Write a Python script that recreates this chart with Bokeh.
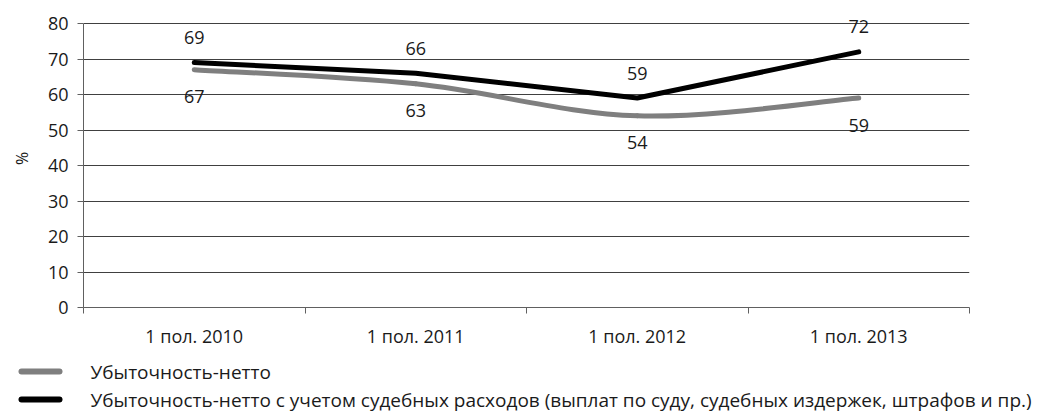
import numpy as np
from bokeh.plotting import figure
from bokeh.layouts import column
from bokeh.models import ColumnDataSource, FixedTicker, LinearAxis, Range1d
from bokeh.core.properties import value
from bokeh.embed import file_html
from bokeh.resources import INLINE

# --- data ---
categories = ["1 пол. 2010", "1 пол. 2011", "1 пол. 2012", "1 пол. 2013"]
net_loss = [67, 63, 54, 59]
net_loss_legal = [69, 66, 59, 72]
y_ticks = [0, 10, 20, 30, 40, 50, 60, 70, 80]
series_names = [
    "Убыточность-нетто",
    "Убыточность-нетто с учетом судебных расходов (выплат по суду, судебных издержек, штрафов и пр.)",
]

FONT = "Open Sans"
TXT = "#1a1a1a"
FS = "18px"
GREY = "#7f7f7f"
BLACK = "#000000"
AXIS = "#606060"

xs = np.arange(len(categories)) + 0.5

# a little head-room above 80 so the top value label is not clipped
y_max = y_ticks[-1]
frame_h = 298
y_top = y_max * frame_h / 284

p = figure(width=1048, height=350, frame_width=886, frame_height=frame_h,
           min_border_left=83, min_border_right=79, min_border_top=9,
           min_border_bottom=43,
           x_range=Range1d(0, len(categories)), y_range=Range1d(0, y_top),
           output_backend="svg", toolbar_location=None, x_axis_type=None)
p.outline_line_color = None
p.background_fill_color = "white"
p.border_fill_color = "white"
p.frame_align = False

# y axis
p.yaxis.ticker = FixedTicker(ticks=y_ticks)
p.yaxis.bounds = (0, y_max)
p.yaxis.axis_line_color = AXIS
p.yaxis.major_tick_line_color = AXIS
p.yaxis.major_tick_out = 6
p.yaxis.major_tick_in = 0
p.yaxis.minor_tick_line_color = None
p.yaxis.major_label_text_font = FONT
p.yaxis.major_label_text_font_size = FS
p.yaxis.major_label_text_color = TXT
p.yaxis.major_label_standoff = 9
p.yaxis.axis_label = "%"
p.yaxis.axis_label_text_font = FONT
p.yaxis.axis_label_text_font_size = "16px"
p.yaxis.axis_label_text_font_style = "normal"
p.yaxis.axis_label_text_color = TXT
p.yaxis.axis_label_standoff = 12

p.ygrid.ticker = FixedTicker(ticks=y_ticks[1:])
p.ygrid.grid_line_color = "#404040"
p.ygrid.grid_line_width = 1
p.xgrid.grid_line_color = None

# category axis: labels centred, ticks on boundaries
xaxis = LinearAxis(ticker=FixedTicker(ticks=list(xs),
                                      minor_ticks=list(range(len(categories) + 1))))
xaxis.major_label_overrides = {float(x): c for x, c in zip(xs, categories)}
xaxis.axis_line_color = AXIS
xaxis.major_tick_line_color = None
xaxis.major_tick_out = 0
xaxis.major_tick_in = 0
xaxis.minor_tick_line_color = AXIS
xaxis.minor_tick_out = 6
xaxis.minor_tick_in = 0
xaxis.major_label_standoff = 10
xaxis.major_label_text_font = FONT
xaxis.major_label_text_font_size = FS
xaxis.major_label_text_color = TXT
p.add_layout(xaxis, "below")


def smooth_segments(x, y, t=1.0):
    """Cubic Bezier control points (Catmull-Rom style) between consecutive points."""
    x = np.asarray(x, float)
    y = np.asarray(y, float)
    n = len(x)
    px = np.concatenate([[x[0]], x, [x[-1]]])
    py = np.concatenate([[y[0]], y, [y[-1]]])
    d = dict(x0=[], y0=[], x1=[], y1=[], cx0=[], cy0=[], cx1=[], cy1=[])
    for i in range(n - 1):
        a, b, c, e = i, i + 1, i + 2, i + 3
        d["x0"].append(px[b]); d["y0"].append(py[b])
        d["x1"].append(px[c]); d["y1"].append(py[c])
        d["cx0"].append(px[b] + (px[c] - px[a]) / 6 * t)
        d["cy0"].append(py[b] + (py[c] - py[a]) / 6 * t)
        d["cx1"].append(px[c] - (px[e] - px[b]) / 6 * t)
        d["cy1"].append(py[c] - (py[e] - py[b]) / 6 * t)
    return ColumnDataSource(d)


grey_src = smooth_segments(xs, net_loss)
p.bezier(x0="x0", y0="y0", x1="x1", y1="y1", cx0="cx0", cy0="cy0",
         cx1="cx1", cy1="cy1", source=grey_src, line_color=GREY,
         line_width=5, line_cap="round")

black_src = ColumnDataSource(dict(x=xs, y=net_loss_legal))
p.line("x", "y", source=black_src, line_color=BLACK, line_width=5,
       line_cap="round", line_join="round")

# value labels: black series above its points, grey series below
lab_grey = ColumnDataSource(dict(x=xs, y=net_loss, t=[str(v) for v in net_loss]))
lab_black = ColumnDataSource(dict(x=xs, y=net_loss_legal,
                                  t=[str(v) for v in net_loss_legal]))
p.text("x", "y", text="t", source=lab_black, y_offset=-25,
       text_align="center", text_baseline="middle",
       text_font=value(FONT), text_font_size=FS, text_color=TXT)
p.text("x", "y", text="t", source=lab_grey, y_offset=27,
       text_align="center", text_baseline="middle",
       text_font=value(FONT), text_font_size=FS, text_color=TXT)

# legend strip underneath the chart (pixel coordinates)
lg = figure(width=1048, height=62, x_range=Range1d(0, 1048), y_range=Range1d(62, 0),
            min_border=0, output_backend="svg", toolbar_location=None,
            x_axis_type=None, y_axis_type=None)
lg.outline_line_color = None
lg.grid.visible = False
lg.border_fill_color = "white"
lg.background_fill_color = "white"
lg.frame_align = False

legend_src = ColumnDataSource(dict(
    x0=[21, 21], x1=[59, 59], y=[21, 49], color=[GREY, BLACK],
    tx=[90, 90], label=series_names))
lg.segment(x0="x0", y0="y", x1="x1", y1="y", color="color", source=legend_src,
           line_width=6, line_cap="round")
lg.text(x="tx", y="y", text="label", source=legend_src, text_baseline="middle",
        text_font=value(FONT), text_font_size="19px", text_color=TXT)

open("out.html", "w").write(file_html(column(p, lg, spacing=0), INLINE))
